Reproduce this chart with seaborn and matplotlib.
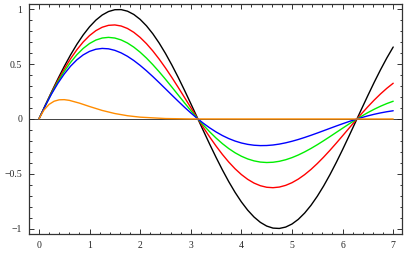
import matplotlib
matplotlib.use("Agg")
import matplotlib.pyplot as plt
from matplotlib.ticker import MultipleLocator
import seaborn as sns

# x samples for the four sine curves (read every 1/8 unit)
x_main = [0, 0.125, 0.25, 0.375, 0.5, 0.625, 0.75, 0.875, 1, 1.125, 1.25, 1.375,
          1.5, 1.625, 1.75, 1.875, 2, 2.125, 2.25, 2.375, 2.5, 2.625, 2.75, 2.875,
          3, 3.125, 3.25, 3.375, 3.5, 3.625, 3.75, 3.875, 4, 4.125, 4.25, 4.375,
          4.5, 4.625, 4.75, 4.875, 5, 5.125, 5.25, 5.375, 5.5, 5.625, 5.75, 5.875,
          6, 6.125, 6.25, 6.375, 6.5, 6.625, 6.75, 6.875, 7]

black_y = [0, 0.1247, 0.2474, 0.3663, 0.4794, 0.5851, 0.6816, 0.7675, 0.8415,
           0.9023, 0.9490, 0.9809, 0.9975, 0.9985, 0.9840, 0.9541, 0.9093, 0.8504,
           0.7781, 0.6937, 0.5985, 0.4939, 0.3817, 0.2634, 0.1411, 0.0166, -0.1082,
           -0.2313, -0.3508, -0.4648, -0.5716, -0.6694, -0.7568, -0.8324, -0.8950,
           -0.9436, -0.9775, -0.9962, -0.9993, -0.9868, -0.9589, -0.9161, -0.8589,
           -0.7884, -0.7055, -0.6117, -0.5083, -0.3970, -0.2794, -0.1575, -0.0332,
           0.0917, 0.2151, 0.3352, 0.4500, 0.5579, 0.6570]
red_y = [0, 0.1232, 0.2413, 0.3528, 0.4560, 0.5496, 0.6323, 0.7032, 0.7614,
         0.8063, 0.8375, 0.8549, 0.8585, 0.8487, 0.8261, 0.7910, 0.7444, 0.6875,
         0.6213, 0.5471, 0.4661, 0.3799, 0.2899, 0.1976, 0.1045, 0.0121, -0.0782,
         -0.1651, -0.2472, -0.3235, -0.3929, -0.4544, -0.5073, -0.5510, -0.5852,
         -0.6092, -0.6233, -0.6273, -0.6215, -0.6060, -0.5816, -0.5487, -0.5081,
         -0.4606, -0.4070, -0.3485, -0.2860, -0.2206, -0.1533, -0.0854, -0.0178,
         0.0485, 0.1123, 0.1728, 0.2291, 0.2805, 0.3263]
green_y = [0, 0.1216, 0.2353, 0.3398, 0.4338, 0.5164, 0.5867, 0.6443, 0.6889,
           0.7205, 0.7391, 0.7451, 0.7389, 0.7214, 0.6934, 0.6558, 0.6095, 0.5560,
           0.4961, 0.4314, 0.3630, 0.2922, 0.2202, 0.1482, 0.0774, 0.0089, -0.0565,
           -0.1178, -0.1742, -0.2251, -0.2700, -0.3084, -0.3400, -0.3648, -0.3825,
           -0.3934, -0.3974, -0.3950, -0.3864, -0.3722, -0.3528, -0.3287, -0.3005,
           -0.2691, -0.2349, -0.1986, -0.1609, -0.1226, -0.0842, -0.0463, -0.0095,
           0.0256, 0.0586, 0.0891, 0.1166, 0.1410, 0.1620]
blue_y = [0, 0.1200, 0.2289, 0.3261, 0.4105, 0.4820, 0.5402, 0.5852, 0.6172,
          0.6366, 0.6441, 0.6405, 0.6265, 0.6033, 0.5720, 0.5335, 0.4891, 0.4401,
          0.3874, 0.3322, 0.2757, 0.2189, 0.1628, 0.1080, 0.0557, 0.0063, -0.0395,
          -0.0813, -0.1185, -0.1511, -0.1788, -0.2014, -0.2191, -0.2317, -0.2397,
          -0.2431, -0.2422, -0.2375, -0.2292, -0.2177, -0.2035, -0.1871, -0.1687,
          -0.1490, -0.1283, -0.1070, -0.0855, -0.0642, -0.0435, -0.0236, -0.0048,
          0.0127, 0.0287, 0.0430, 0.0555, 0.0662, 0.0751]

# orange hump, sampled closer near the start
x_orange = [0, 0.1, 0.2, 0.3, 0.4, 0.5, 0.6, 0.8, 1, 1.25, 1.5, 1.75, 2, 2.5, 3, 4, 5, 6, 7]
orange_y = [0, 0.0817, 0.1332, 0.1622, 0.1750, 0.1764, 0.1701, 0.1448, 0.1139,
            0.0779, 0.0497, 0.0297, 0.0166, 0.0040, 0.0004, 0, 0, 0, 0]

x_ticks = [0, 1, 2, 3, 4, 5, 6, 7]
y_ticks = [-1, -0.5, 0, 0.5, 1]
y_tick_labels = ["\u22121", "\u22120.5", "0", "0.5", "1"]

sns.set_style("ticks")
plt.rcParams['font.family'] = ['Liberation Serif', 'DejaVu Serif']

fig = plt.figure(figsize=(4.07, 2.60), dpi=100)
ax = fig.add_axes([0.072, 0.10, 0.9165, 0.8835])

ax.axhline(0, color="#222222", lw=0.6, zorder=1)

lw = 1.0
sns.lineplot(x=x_main, y=black_y, color="black", lw=lw, sort=False, estimator=None, ax=ax)
sns.lineplot(x=x_main, y=red_y, color="#ff0000", lw=lw, sort=False, estimator=None, ax=ax)
sns.lineplot(x=x_main, y=green_y, color="#00ee00", lw=lw, sort=False, estimator=None, ax=ax)
sns.lineplot(x=x_main, y=blue_y, color="#0000ff", lw=lw, sort=False, estimator=None, ax=ax)
sns.lineplot(x=x_orange, y=orange_y, color="#ff8c00", lw=lw, sort=False, estimator=None, ax=ax)

ax.set_xlim(-0.19, 7.18)
ax.set_ylim(-1.05, 1.047)
ax.set_xticks(x_ticks)
ax.set_xticklabels([str(t) for t in x_ticks])
ax.set_yticks(y_ticks)
ax.set_yticklabels(y_tick_labels)
ax.xaxis.set_minor_locator(MultipleLocator(0.2))
ax.yaxis.set_minor_locator(MultipleLocator(0.1))
ax.tick_params(which="both", direction="in", top=True, right=True,
               color="#333333", width=0.7, labelsize=7, pad=5)
ax.tick_params(which="major", length=3.5)
ax.tick_params(which="minor", length=1.8)
for s in ax.spines.values():
    s.set_color("#333333")
    s.set_linewidth(0.9)
ax.set_xlabel("")
ax.set_ylabel("")

fig.savefig("out.png", dpi=100)
